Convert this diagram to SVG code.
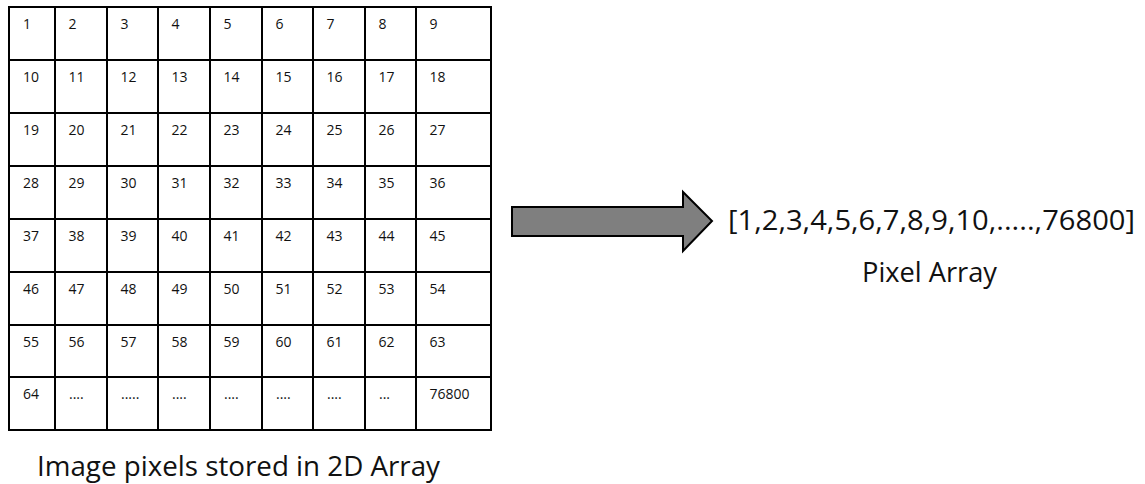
<svg xmlns="http://www.w3.org/2000/svg" width="1145" height="484" viewBox="0 0 1145 484">
<style>
.grid line{stroke:#000;stroke-width:2}
.cell{font-family:"Open Sans","Liberation Sans",sans-serif;font-size:14px;fill:#111}
.big{font-family:"Open Sans","Liberation Sans",sans-serif;font-size:27px;fill:#111}
</style>
<rect width="1145" height="484" fill="#fff"/>
<g id="grid" class="grid">
<line x1="9" y1="7" x2="9" y2="430"/><line x1="55" y1="7" x2="55" y2="430"/><line x1="107" y1="7" x2="107" y2="430"/><line x1="158" y1="7" x2="158" y2="430"/><line x1="210" y1="7" x2="210" y2="430"/><line x1="262" y1="7" x2="262" y2="430"/><line x1="313" y1="7" x2="313" y2="430"/><line x1="365" y1="7" x2="365" y2="430"/><line x1="416" y1="7" x2="416" y2="430"/><line x1="491" y1="7" x2="491" y2="430"/>
<line x1="8" y1="7" x2="492" y2="7"/><line x1="8" y1="60" x2="492" y2="60"/><line x1="8" y1="113" x2="492" y2="113"/><line x1="8" y1="166" x2="492" y2="166"/><line x1="8" y1="219" x2="492" y2="219"/><line x1="8" y1="272" x2="492" y2="272"/><line x1="8" y1="325" x2="492" y2="325"/><line x1="8" y1="377" x2="492" y2="377"/><line x1="8" y1="430" x2="492" y2="430"/>
</g>
<g id="cells" class="cell">
<text x="23" y="29">1</text><text x="68.5" y="29">2</text><text x="120.5" y="29">3</text><text x="171.5" y="29">4</text><text x="223.5" y="29">5</text><text x="275.5" y="29">6</text><text x="326.5" y="29">7</text><text x="378.5" y="29">8</text><text x="429.5" y="29">9</text>
<text x="23" y="82">10</text><text x="68.5" y="82">11</text><text x="120.5" y="82">12</text><text x="171.5" y="82">13</text><text x="223.5" y="82">14</text><text x="275.5" y="82">15</text><text x="326.5" y="82">16</text><text x="378.5" y="82">17</text><text x="429.5" y="82">18</text>
<text x="23" y="135">19</text><text x="68.5" y="135">20</text><text x="120.5" y="135">21</text><text x="171.5" y="135">22</text><text x="223.5" y="135">23</text><text x="275.5" y="135">24</text><text x="326.5" y="135">25</text><text x="378.5" y="135">26</text><text x="429.5" y="135">27</text>
<text x="23" y="188">28</text><text x="68.5" y="188">29</text><text x="120.5" y="188">30</text><text x="171.5" y="188">31</text><text x="223.5" y="188">32</text><text x="275.5" y="188">33</text><text x="326.5" y="188">34</text><text x="378.5" y="188">35</text><text x="429.5" y="188">36</text>
<text x="23" y="241">37</text><text x="68.5" y="241">38</text><text x="120.5" y="241">39</text><text x="171.5" y="241">40</text><text x="223.5" y="241">41</text><text x="275.5" y="241">42</text><text x="326.5" y="241">43</text><text x="378.5" y="241">44</text><text x="429.5" y="241">45</text>
<text x="23" y="294">46</text><text x="68.5" y="294">47</text><text x="120.5" y="294">48</text><text x="171.5" y="294">49</text><text x="223.5" y="294">50</text><text x="275.5" y="294">51</text><text x="326.5" y="294">52</text><text x="378.5" y="294">53</text><text x="429.5" y="294">54</text>
<text x="23" y="347">55</text><text x="68.5" y="347">56</text><text x="120.5" y="347">57</text><text x="171.5" y="347">58</text><text x="223.5" y="347">59</text><text x="275.5" y="347">60</text><text x="326.5" y="347">61</text><text x="378.5" y="347">62</text><text x="429.5" y="347">63</text>
<text x="23" y="399">64</text><text x="69" y="399">....</text><text x="121" y="399">.....</text><text x="172" y="399">....</text><text x="224" y="399">....</text><text x="276" y="399">....</text><text x="327" y="399">....</text><text x="379" y="399">...</text><text x="429.5" y="399">76800</text>
</g>
<g id="connectors">
<polygon points="512,207 683,207 683,192 712,221 683,251 683,236 512,236" fill="#7f7f7f" stroke="#000" stroke-width="2" stroke-linejoin="miter"/>
</g>
<g id="pixel-array">
<text class="big" x="728" y="230" textLength="407" lengthAdjust="spacingAndGlyphs">[1,2,3,4,5,6,7,8,9,10,.....,76800]</text>
<text class="big" x="862" y="282" textLength="135" lengthAdjust="spacingAndGlyphs">Pixel Array</text>
</g>
<g id="caption">
<text class="big" x="37" y="476" textLength="403" lengthAdjust="spacingAndGlyphs">Image pixels stored in 2D Array</text>
</g>
</svg>
